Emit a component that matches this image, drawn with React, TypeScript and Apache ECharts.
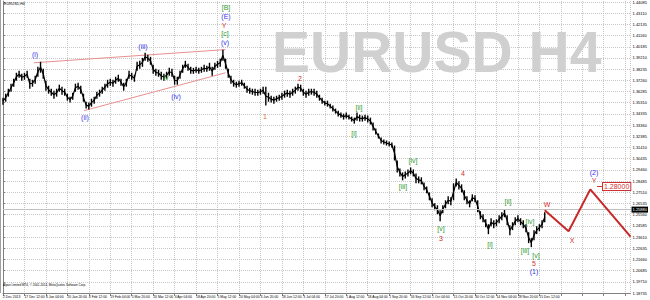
import React, { useEffect, useRef } from "react";
import * as echarts from "echarts";

const highs = [
  1.3575, 1.361, 1.3653, 1.3697, 1.374, 1.3792, 1.3809, 1.3783, 1.3792, 1.3809,
  1.374, 1.3731, 1.3766, 1.3844, 1.3888, 1.3827, 1.3723, 1.3679, 1.3653, 1.3636,
  1.3653, 1.3688, 1.3671, 1.3653, 1.361, 1.3584, 1.3618, 1.3697, 1.3705, 1.3679,
  1.361, 1.354, 1.3532, 1.3566, 1.3584, 1.3627, 1.3645, 1.3671, 1.3697, 1.3731,
  1.374, 1.3731, 1.3757, 1.3775, 1.374, 1.3705, 1.374, 1.3809, 1.3792, 1.3775,
  1.3888, 1.3896, 1.3922, 1.3966, 1.3948, 1.3931, 1.3862, 1.3827, 1.3818, 1.3801,
  1.3783, 1.3801, 1.3835, 1.3827, 1.3766, 1.3757, 1.3809, 1.3862, 1.3896, 1.387,
  1.3844, 1.3835, 1.3844, 1.3835, 1.3844, 1.3862, 1.3853, 1.3879, 1.3844, 1.3879,
  1.3896, 1.3914, 1.3992, 1.3914, 1.3827, 1.3766, 1.3731, 1.3714, 1.3723, 1.3731,
  1.3705, 1.3679, 1.3662, 1.3653, 1.3653, 1.3645, 1.3653, 1.3671, 1.3671, 1.3618,
  1.3592, 1.3584, 1.3592, 1.3601, 1.3618, 1.3636, 1.3645, 1.3636, 1.3653, 1.3671,
  1.3697, 1.3688, 1.3653, 1.3636, 1.3653, 1.3653, 1.3653, 1.3636, 1.3601, 1.3575,
  1.3549, 1.3549, 1.3523, 1.3506, 1.348, 1.3462, 1.3445, 1.3436, 1.3445, 1.3427,
  1.341, 1.3401, 1.3445, 1.3427, 1.3419, 1.3427, 1.3419, 1.3401, 1.3358, 1.3306,
  1.3263, 1.3228, 1.321, 1.3202, 1.3193, 1.3184, 1.3158, 1.3028, 1.2959, 1.2924,
  1.2933, 1.295, 1.2967, 1.295, 1.2915, 1.2889, 1.2881, 1.2837, 1.2802, 1.275,
  1.2698, 1.2655, 1.2638, 1.2594, 1.2638, 1.2681, 1.2716, 1.2707, 1.2829, 1.2872,
  1.2846, 1.282, 1.2768, 1.2716, 1.2681, 1.2733, 1.2724, 1.2681, 1.2586, 1.256,
  1.2516, 1.2473, 1.2525, 1.2507, 1.2516, 1.2551, 1.2577, 1.2603, 1.2551, 1.2464,
  1.249, 1.2534, 1.2551, 1.2525, 1.2507, 1.2473, 1.2403, 1.2351, 1.2421, 1.2455,
  1.2473, 1.2507, 1.2577,
];
const lows = [
  1.3514, 1.354, 1.3584, 1.3627, 1.3671, 1.3723, 1.3749, 1.3723, 1.3731, 1.3749,
  1.3653, 1.3671, 1.3697, 1.3757, 1.3792, 1.374, 1.3636, 1.361, 1.3592, 1.3566,
  1.3584, 1.3627, 1.3601, 1.3592, 1.3549, 1.3532, 1.3558, 1.3627, 1.3645, 1.361,
  1.354, 1.348, 1.3471, 1.3497, 1.3523, 1.3566, 1.3584, 1.361, 1.3636, 1.3662,
  1.3679, 1.3671, 1.3697, 1.3714, 1.3679, 1.3636, 1.3671, 1.374, 1.3731, 1.3714,
  1.3809, 1.3827, 1.3844, 1.3896, 1.3888, 1.3862, 1.3783, 1.3766, 1.3757, 1.3731,
  1.3723, 1.374, 1.3766, 1.3757, 1.3688, 1.3688, 1.374, 1.3792, 1.3835, 1.3809,
  1.3783, 1.3783, 1.3792, 1.3783, 1.3792, 1.3801, 1.3801, 1.3809, 1.3766, 1.3818,
  1.3835, 1.3844, 1.3896, 1.3827, 1.3749, 1.3697, 1.3671, 1.3662, 1.3671, 1.3679,
  1.3653, 1.3618, 1.361, 1.3601, 1.3592, 1.3592, 1.3601, 1.361, 1.3506, 1.354,
  1.3532, 1.3523, 1.354, 1.3549, 1.3558, 1.3575, 1.3584, 1.3575, 1.3592, 1.361,
  1.3636, 1.3627, 1.3592, 1.3575, 1.3592, 1.3601, 1.3592, 1.3575, 1.3549, 1.3523,
  1.3506, 1.3497, 1.348, 1.3454, 1.3436, 1.341, 1.3401, 1.3384, 1.3393, 1.3384,
  1.3367, 1.3349, 1.3375, 1.3367, 1.3367, 1.3375, 1.3358, 1.3341, 1.3289, 1.3254,
  1.3219, 1.3176, 1.3167, 1.3158, 1.315, 1.3141, 1.3028, 1.2924, 1.2889, 1.2855,
  1.2872, 1.2889, 1.2907, 1.2889, 1.2829, 1.2829, 1.282, 1.2768, 1.2742, 1.2681,
  1.262, 1.2594, 1.256, 1.2499, 1.2568, 1.2612, 1.2646, 1.2638, 1.2681, 1.2802,
  1.2776, 1.275, 1.2681, 1.2646, 1.262, 1.2672, 1.2664, 1.2577, 1.2516, 1.249,
  1.2447, 1.2386, 1.2455, 1.2438, 1.2455, 1.2481, 1.2507, 1.2534, 1.2464, 1.2377,
  1.2421, 1.2464, 1.249, 1.2464, 1.2438, 1.2403, 1.2308, 1.2273, 1.2334, 1.2386,
  1.2412, 1.2438, 1.249,
];

const xLabels = [
  "2 Dec 2013", "17 Dec 12:00", "6 Jan 04:00", "20 Jan 20:00", "4 Feb 12:00",
  "19 Feb 04:00", "5 Mar 20:00", "20 Mar 12:00", "4 Apr 04:00", "18 Apr 20:00",
  "5 May 12:00", "20 May 04:00", "3 Jun 20:00", "18 Jun 12:00", "3 Jul 04:00",
  "17 Jul 20:00", "1 Aug 12:00", "18 Aug 04:00", "1 Sep 20:00", "16 Sep 12:00",
  "1 Oct 04:00", "15 Oct 20:00", "30 Oct 12:00", "14 Nov 04:00", "28 Nov 20:00",
  "15 Dec 12:00",
];

const yTicks = [
  1.18735, 1.1971, 1.20685, 1.2166, 1.22635, 1.2361, 1.24585, 1.2556, 1.26535,
  1.2751, 1.28485, 1.2946, 1.30435, 1.3141, 1.32385, 1.3336, 1.34335, 1.3531,
  1.36285, 1.3726, 1.38235, 1.3921, 1.40185, 1.4116, 1.42135, 1.4311, 1.44085,
];

const upperTrend = [[11.5, 1.3879], [83, 1.3994]];
const lowerTrend = [[30.2, 1.3462], [83, 1.3792]];
const forecast = [[202, 1.2594], [210.9, 1.2412], [219, 1.2776], [234, 1.2364]];
const currentPrice = 1.2588;
const currentLabel = "1.25880";
const targetLabel = "1.28000";

const BLUE = "#3434e8";
const GREEN = "#2f9a2f";
const RED = "#d03030";
const ORANGE = "#d8702a";

const waveLabels: [string, number, number, string][] = [
  ["(i)", 35, 54, BLUE],
  ["(ii)", 85, 117, BLUE],
  ["(iii)", 143, 46, BLUE],
  ["(iv)", 176, 96, BLUE],
  ["iv", 166, 77, GREEN],
  ["[B]", 226, 7, GREEN],
  ["(E)", 226, 16, BLUE],
  ["Y", 224, 25, RED],
  ["[c]", 225, 33, GREEN],
  ["(v)", 225, 42, BLUE],
  ["1", 265, 116, ORANGE],
  ["2", 300, 78, RED],
  ["[ii]", 359, 107, GREEN],
  ["[i]", 354, 133, GREEN],
  ["[iv]", 413, 160, GREEN],
  ["[iii]", 403, 186, GREEN],
  ["[v]", 441, 228, GREEN],
  ["3", 441, 238, RED],
  ["4", 463, 173, RED],
  ["[i]", 490, 244, GREEN],
  ["[ii]", 508, 201, GREEN],
  ["[iv]", 530, 221, GREEN],
  ["[iii]", 525, 250.5, GREEN],
  ["[v]", 536, 255.5, GREEN],
  ["5", 534, 263.5, RED],
  ["(1)", 534, 271.5, BLUE],
  ["W", 547, 204, RED],
  ["X", 572, 240, RED],
  ["(2)", 594, 172, BLUE],
  ["Y", 594, 180, RED],
];

const FONT = "Liberation Sans, Arial, sans-serif";

export default function App() {
  const ref = useRef<HTMLDivElement>(null);
  useEffect(() => {
    const chart = echarts.init(ref.current!, null, { renderer: "svg" });
    const bars = highs.map((h, i) => [i, lows[i], h]);
    const mids = highs.map((h, i) => [i, (h + lows[i]) / 2]);
    const option: any = {
      animation: false,
      backgroundColor: "#ffffff",
      textStyle: { fontFamily: FONT },
      grid: { left: 1, top: 0, width: 634, height: 293 },
      xAxis: {
        type: "value",
        min: 0,
        max: 234,
        interval: 8,
        axisLine: { show: true, onZero: false, lineStyle: { color: "#808080" } },
        axisTick: { show: true, length: 3, lineStyle: { color: "#808080" } },
        axisLabel: {
          fontSize: 3.4,
          color: "#000",
          align: "left",
          margin: 2,
          showMinLabel: true,
          showMaxLabel: false,
          formatter: (v: number) => xLabels[Math.round(v / 8)] ?? "",
        },
        splitLine: { show: true, lineStyle: { color: "#c8c8c8", type: "dotted" } },
      },
      yAxis: {
        type: "value",
        position: "right",
        min: 1.18735,
        max: 1.4417,
        axisLine: { show: true, lineStyle: { color: "#808080" } },
        axisTick: { show: true, length: 2, customValues: yTicks, lineStyle: { color: "#808080" } },
        axisLabel: {
          fontSize: 4,
          color: "#000",
          margin: 2,
          customValues: yTicks,
          formatter: (v: number) => v.toFixed(5),
        },
        splitLine: { show: true, lineStyle: { color: "#c8c8c8", type: "dotted" } },
      },
      series: [
        {
          type: "line",
          data: upperTrend,
          symbol: "none",
          lineStyle: { color: "#e89090", width: 1 },
          z: 3,
        },
        {
          type: "line",
          data: lowerTrend,
          symbol: "none",
          lineStyle: { color: "#e89090", width: 1 },
          z: 3,
        },
        {
          type: "line",
          data: mids,
          symbol: "none",
          lineStyle: { color: "#000", width: 1.2 },
          z: 4,
        },
        {
          type: "custom",
          data: bars,
          z: 4,
          renderItem: (params: any, api: any) => {
            const p1 = api.coord([api.value(0), api.value(1)]);
            const p2 = api.coord([api.value(0), api.value(2)]);
            return {
              type: "line",
              shape: { x1: p1[0], y1: p1[1], x2: p2[0], y2: p2[1] },
              style: { stroke: "#000", lineWidth: 1.4 },
            };
          },
          markLine: {
            silent: true,
            symbol: "none",
            data: [{ yAxis: currentPrice }],
            lineStyle: { color: "#c0c0c0", type: "solid", width: 1 },
            label: {
              position: "end",
              distance: 1,
              formatter: currentLabel,
              backgroundColor: "#000",
              color: "#fff",
              fontSize: 4,
              padding: [1, 1],
            },
          },
        },
        {
          type: "line",
          data: forecast,
          symbol: "none",
          lineStyle: { color: "#c82828", width: 2 },
          z: 5,
        },
      ],
      graphic: [
        {
          type: "text",
          x: 272,
          y: 52,
          z: 1,
          style: {
            text: "EURUSD H4",
            fill: "#d0d0d0",
            font: `bold 57px ${FONT}`,
            lineHeight: 40,
            verticalAlign: "middle",
          },
        },
        {
          type: "text",
          x: 4,
          y: 4,
          z: 10,
          style: { text: "EURUSD,H4", fill: "#000", font: `3.6px ${FONT}`, verticalAlign: "middle" },
        },
        {
          type: "text",
          x: 3,
          y: 285,
          z: 10,
          style: {
            text: "Alpari Limited MT4, © 2001-2014, MetaQuotes Software Corp.",
            fill: "#000",
            font: `3px ${FONT}`,
            verticalAlign: "middle",
          },
        },
        {
          type: "line",
          z: 10,
          shape: { x1: 0.5, y1: 0, x2: 0.5, y2: 293 },
          style: { stroke: "#a0a0a0", lineWidth: 1 },
        },
        {
          type: "line",
          z: 10,
          shape: { x1: 597, y1: 186.5, x2: 603, y2: 186.5 },
          style: { stroke: RED, lineWidth: 1 },
        },
        {
          type: "text",
          x: 603,
          y: 186.5,
          z: 10,
          style: {
            text: targetLabel,
            fill: RED,
            font: `7px ${FONT}`,
            verticalAlign: "middle",
            backgroundColor: "#fff",
            borderColor: RED,
            borderWidth: 1,
            padding: [0, 1],
          },
        },
        ...waveLabels.map(([t, x, y, c]) => ({
          type: "text",
          x,
          y,
          z: 10,
          style: {
            text: t,
            fill: c,
            font: `7px ${FONT}`,
            align: "center",
            verticalAlign: "middle",
          },
        })),
      ],
    };
    chart.setOption(option);
    return () => chart.dispose();
  }, []);
  return (
    <div
      ref={ref}
      style={{ position: "absolute", left: 0, top: 0, width: 650, height: 300 }}
    />
  );
}
